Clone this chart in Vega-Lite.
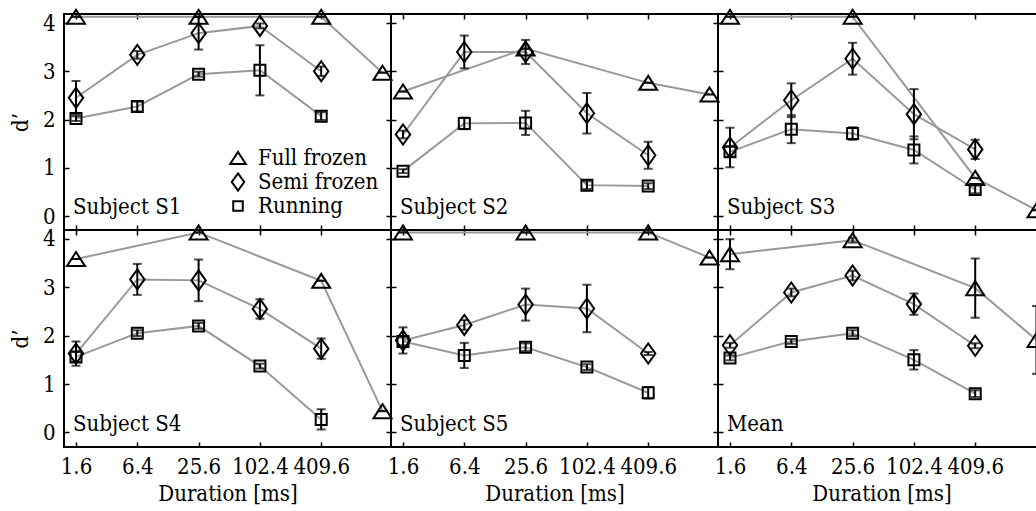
{
"$schema": "https://vega.github.io/schema/vega-lite/v6.json",
"padding": {"left": 8, "top": 4, "right": 0, "bottom": 0},
"datasets": {
"pts": [
{"p":"S1","c":"Full frozen","d":1.6,"v":4.13,"lo":4.13,"hi":4.13},
{"p":"S1","c":"Full frozen","d":25.6,"v":4.13,"lo":4.13,"hi":4.13},
{"p":"S1","c":"Full frozen","d":409.6,"v":4.13,"lo":4.13,"hi":4.13},
{"p":"S1","c":"Full frozen","d":1638.4,"v":2.97,"lo":2.97,"hi":2.97},
{"p":"S1","c":"Semi frozen","d":1.6,"v":2.45,"lo":2.1,"hi":2.8},
{"p":"S1","c":"Semi frozen","d":6.4,"v":3.34,"lo":3.26,"hi":3.42},
{"p":"S1","c":"Semi frozen","d":25.6,"v":3.79,"lo":3.45,"hi":4.13},
{"p":"S1","c":"Semi frozen","d":102.4,"v":3.94,"lo":3.89,"hi":3.99},
{"p":"S1","c":"Semi frozen","d":409.6,"v":3.0,"lo":2.9,"hi":3.1},
{"p":"S1","c":"Running","d":1.6,"v":2.02,"lo":1.97,"hi":2.07},
{"p":"S1","c":"Running","d":6.4,"v":2.27,"lo":2.17,"hi":2.37},
{"p":"S1","c":"Running","d":25.6,"v":2.94,"lo":2.89,"hi":2.99},
{"p":"S1","c":"Running","d":102.4,"v":3.02,"lo":2.5,"hi":3.54},
{"p":"S1","c":"Running","d":409.6,"v":2.07,"lo":1.99,"hi":2.15},
{"p":"S2","c":"Full frozen","d":1.6,"v":2.58,"lo":2.58,"hi":2.58},
{"p":"S2","c":"Full frozen","d":25.6,"v":3.47,"lo":3.47,"hi":3.47},
{"p":"S2","c":"Full frozen","d":409.6,"v":2.76,"lo":2.76,"hi":2.76},
{"p":"S2","c":"Full frozen","d":1638.4,"v":2.52,"lo":2.52,"hi":2.52},
{"p":"S2","c":"Semi frozen","d":1.6,"v":1.69,"lo":1.61,"hi":1.77},
{"p":"S2","c":"Semi frozen","d":6.4,"v":3.4,"lo":3.06,"hi":3.74},
{"p":"S2","c":"Semi frozen","d":25.6,"v":3.4,"lo":3.15,"hi":3.65},
{"p":"S2","c":"Semi frozen","d":102.4,"v":2.13,"lo":1.71,"hi":2.55},
{"p":"S2","c":"Semi frozen","d":409.6,"v":1.26,"lo":0.98,"hi":1.54},
{"p":"S2","c":"Running","d":1.6,"v":0.93,"lo":0.89,"hi":0.97},
{"p":"S2","c":"Running","d":6.4,"v":1.92,"lo":1.8,"hi":2.04},
{"p":"S2","c":"Running","d":25.6,"v":1.93,"lo":1.68,"hi":2.18},
{"p":"S2","c":"Running","d":102.4,"v":0.64,"lo":0.56,"hi":0.72},
{"p":"S2","c":"Running","d":409.6,"v":0.62,"lo":0.56,"hi":0.68},
{"p":"S3","c":"Full frozen","d":1.6,"v":4.13,"lo":4.13,"hi":4.13},
{"p":"S3","c":"Full frozen","d":25.6,"v":4.13,"lo":4.13,"hi":4.13},
{"p":"S3","c":"Full frozen","d":409.6,"v":0.79,"lo":0.79,"hi":0.79},
{"p":"S3","c":"Full frozen","d":1638.4,"v":0.12,"lo":0.12,"hi":0.12},
{"p":"S3","c":"Semi frozen","d":1.6,"v":1.42,"lo":1.01,"hi":1.83},
{"p":"S3","c":"Semi frozen","d":6.4,"v":2.4,"lo":2.05,"hi":2.75},
{"p":"S3","c":"Semi frozen","d":25.6,"v":3.26,"lo":2.93,"hi":3.59},
{"p":"S3","c":"Semi frozen","d":102.4,"v":2.11,"lo":1.59,"hi":2.63},
{"p":"S3","c":"Semi frozen","d":409.6,"v":1.38,"lo":1.18,"hi":1.58},
{"p":"S3","c":"Running","d":1.6,"v":1.33,"lo":1.23,"hi":1.43},
{"p":"S3","c":"Running","d":6.4,"v":1.8,"lo":1.51,"hi":2.09},
{"p":"S3","c":"Running","d":25.6,"v":1.71,"lo":1.58,"hi":1.84},
{"p":"S3","c":"Running","d":102.4,"v":1.37,"lo":1.09,"hi":1.65},
{"p":"S3","c":"Running","d":409.6,"v":0.55,"lo":0.47,"hi":0.63},
{"p":"S4","c":"Full frozen","d":1.6,"v":3.58,"lo":3.58,"hi":3.58},
{"p":"S4","c":"Full frozen","d":25.6,"v":4.13,"lo":4.13,"hi":4.13},
{"p":"S4","c":"Full frozen","d":409.6,"v":3.13,"lo":3.13,"hi":3.13},
{"p":"S4","c":"Full frozen","d":1638.4,"v":0.44,"lo":0.44,"hi":0.44},
{"p":"S4","c":"Semi frozen","d":1.6,"v":1.63,"lo":1.38,"hi":1.88},
{"p":"S4","c":"Semi frozen","d":6.4,"v":3.16,"lo":2.84,"hi":3.48},
{"p":"S4","c":"Semi frozen","d":25.6,"v":3.14,"lo":2.71,"hi":3.57},
{"p":"S4","c":"Semi frozen","d":102.4,"v":2.55,"lo":2.35,"hi":2.75},
{"p":"S4","c":"Semi frozen","d":409.6,"v":1.73,"lo":1.52,"hi":1.94},
{"p":"S4","c":"Running","d":1.6,"v":1.56,"lo":1.46,"hi":1.66},
{"p":"S4","c":"Running","d":6.4,"v":2.05,"lo":1.99,"hi":2.11},
{"p":"S4","c":"Running","d":25.6,"v":2.2,"lo":2.14,"hi":2.26},
{"p":"S4","c":"Running","d":102.4,"v":1.37,"lo":1.32,"hi":1.42},
{"p":"S4","c":"Running","d":409.6,"v":0.27,"lo":0.06,"hi":0.48},
{"p":"S5","c":"Full frozen","d":1.6,"v":4.13,"lo":4.13,"hi":4.13},
{"p":"S5","c":"Full frozen","d":25.6,"v":4.13,"lo":4.13,"hi":4.13},
{"p":"S5","c":"Full frozen","d":409.6,"v":4.13,"lo":4.13,"hi":4.13},
{"p":"S5","c":"Full frozen","d":1638.4,"v":3.61,"lo":3.61,"hi":3.61},
{"p":"S5","c":"Semi frozen","d":1.6,"v":1.9,"lo":1.63,"hi":2.17},
{"p":"S5","c":"Semi frozen","d":6.4,"v":2.22,"lo":2.12,"hi":2.32},
{"p":"S5","c":"Semi frozen","d":25.6,"v":2.64,"lo":2.31,"hi":2.97},
{"p":"S5","c":"Semi frozen","d":102.4,"v":2.56,"lo":2.07,"hi":3.05},
{"p":"S5","c":"Semi frozen","d":409.6,"v":1.63,"lo":1.6,"hi":1.66},
{"p":"S5","c":"Running","d":1.6,"v":1.88,"lo":1.8,"hi":1.96},
{"p":"S5","c":"Running","d":6.4,"v":1.59,"lo":1.33,"hi":1.85},
{"p":"S5","c":"Running","d":25.6,"v":1.76,"lo":1.68,"hi":1.84},
{"p":"S5","c":"Running","d":102.4,"v":1.35,"lo":1.29,"hi":1.41},
{"p":"S5","c":"Running","d":409.6,"v":0.82,"lo":0.7,"hi":0.94},
{"p":"Mean","c":"Full frozen","d":1.6,"v":3.68,"lo":3.37,"hi":3.99},
{"p":"Mean","c":"Full frozen","d":25.6,"v":3.97,"lo":3.92,"hi":4.02},
{"p":"Mean","c":"Full frozen","d":409.6,"v":2.98,"lo":2.37,"hi":3.59},
{"p":"Mean","c":"Full frozen","d":1638.4,"v":1.91,"lo":1.21,"hi":2.61},
{"p":"Mean","c":"Semi frozen","d":1.6,"v":1.8,"lo":1.75,"hi":1.85},
{"p":"Mean","c":"Semi frozen","d":6.4,"v":2.89,"lo":2.81,"hi":2.97},
{"p":"Mean","c":"Semi frozen","d":25.6,"v":3.24,"lo":3.14,"hi":3.34},
{"p":"Mean","c":"Semi frozen","d":102.4,"v":2.65,"lo":2.43,"hi":2.87},
{"p":"Mean","c":"Semi frozen","d":409.6,"v":1.79,"lo":1.74,"hi":1.84},
{"p":"Mean","c":"Running","d":1.6,"v":1.54,"lo":1.49,"hi":1.59},
{"p":"Mean","c":"Running","d":6.4,"v":1.88,"lo":1.83,"hi":1.93},
{"p":"Mean","c":"Running","d":25.6,"v":2.05,"lo":1.99,"hi":2.11},
{"p":"Mean","c":"Running","d":102.4,"v":1.5,"lo":1.3,"hi":1.7},
{"p":"Mean","c":"Running","d":409.6,"v":0.8,"lo":0.73,"hi":0.87}
]
},
"spacing": 0,
"bounds": "flush",
"columns": 3,
"resolve": {"scale": {"shape": "independent"}, "legend": {"shape": "independent"}},
"concat": [
{"width": 327, "height": 216, "data": {"name": "pts"},
 "layer": [
  {"transform": [{"filter": "datum.p === 'S1'"}], "mark": {"type": "line", "color": "#999999", "strokeWidth": 2},
   "encoding": {"x": {"field": "d", "type": "quantitative", "scale": {"type": "log", "domain": [1.22, 1985], "nice": false}, "axis": {"orient": "bottom", "values": [1.6, 6.4, 25.6, 102.4, 409.6], "labels": false, "title": null}},
    "y": {"field": "v", "type": "quantitative", "scale": {"domain": [-0.29, 4.187], "nice": false, "zero": false}, "axis": {"orient": "left", "values": [0, 1, 2, 3, 4], "format": "d", "title": "d’", "titlePadding": 10}},
    "detail": {"field": "c"}}},
  {"transform": [{"filter": "datum.p === 'S1'"}], "mark": {"type": "errorbar", "color": "black", "ticks": {"size": 9, "thickness": 2}, "rule": {"strokeWidth": 2}},
   "encoding": {"x": {"field": "d", "type": "quantitative", "axis": null}, "y": {"field": "lo", "type": "quantitative", "axis": null}, "y2": {"field": "hi"}}},
  {"transform": [{"filter": "datum.p === 'S1'"}], "mark": {"type": "point", "filled": false, "color": "black", "strokeWidth": 2, "size": 400, "opacity": 1},
   "encoding": {"x": {"field": "d", "type": "quantitative", "axis": {"orient": "top", "values": [1.6, 6.4, 25.6, 102.4, 409.6], "labels": false, "title": null}},
    "y": {"field": "v", "type": "quantitative", "axis": {"orient": "right", "values": [0, 1, 2, 3, 4], "labels": false, "title": null}},
    "shape": {"field": "c", "type": "nominal", "scale": {"domain": ["Full frozen", "Semi frozen", "Running"], "range": ["M0,-0.7L0.9,0.7L-0.9,0.7Z", "M0,-1L0.72,0L0,1L-0.72,0Z", "M-0.55,-0.55L0.55,-0.55L0.55,0.55L-0.55,0.55Z"]},
     "legend": {"orient": "none", "legendX": 163, "legendY": 133, "title": null, "padding": 0, "labelFont": "DejaVu Serif Condensed, DejaVu Serif", "labelFontSize": 22, "labelColor": "black", "symbolSize": 300, "symbolStrokeWidth": 2, "symbolStrokeColor": "black", "symbolFillColor": "transparent", "labelOffset": 9, "rowPadding": 0}}}},
  {"data": {"values": [{"t": "Subject S1"}]}, "mark": {"type": "text", "align": "left", "baseline": "alphabetic", "dx": -3, "fontSize": 22, "font": "DejaVu Serif Condensed, DejaVu Serif", "color": "black"},
   "encoding": {"x": {"datum": 1.6, "type": "quantitative", "axis": null}, "y": {"datum": 0.04, "type": "quantitative", "axis": null}, "text": {"field": "t"}}}
 ],
 "resolve": {"axis": {"x": "independent", "y": "independent"}}},
{"width": 327, "height": 216, "data": {"name": "pts"},
 "layer": [
  {"transform": [{"filter": "datum.p === 'S2'"}], "mark": {"type": "line", "color": "#999999", "strokeWidth": 2},
   "encoding": {"x": {"field": "d", "type": "quantitative", "scale": {"type": "log", "domain": [1.22, 1985], "nice": false}, "axis": {"orient": "bottom", "values": [1.6, 6.4, 25.6, 102.4, 409.6], "labels": false, "title": null}},
    "y": {"field": "v", "type": "quantitative", "scale": {"domain": [-0.29, 4.187], "nice": false, "zero": false}, "axis": {"orient": "left", "values": [0, 1, 2, 3, 4], "labels": false, "title": null}},
    "detail": {"field": "c"}}},
  {"transform": [{"filter": "datum.p === 'S2'"}], "mark": {"type": "errorbar", "color": "black", "ticks": {"size": 9, "thickness": 2}, "rule": {"strokeWidth": 2}},
   "encoding": {"x": {"field": "d", "type": "quantitative", "axis": null}, "y": {"field": "lo", "type": "quantitative", "axis": null}, "y2": {"field": "hi"}}},
  {"transform": [{"filter": "datum.p === 'S2'"}], "mark": {"type": "point", "filled": false, "color": "black", "strokeWidth": 2, "size": 400, "opacity": 1},
   "encoding": {"x": {"field": "d", "type": "quantitative", "axis": {"orient": "top", "values": [1.6, 6.4, 25.6, 102.4, 409.6], "labels": false, "title": null}},
    "y": {"field": "v", "type": "quantitative", "axis": {"orient": "right", "values": [0, 1, 2, 3, 4], "labels": false, "title": null}},
    "shape": {"field": "c", "type": "nominal", "scale": {"domain": ["Full frozen", "Semi frozen", "Running"], "range": ["M0,-0.7L0.9,0.7L-0.9,0.7Z", "M0,-1L0.72,0L0,1L-0.72,0Z", "M-0.55,-0.55L0.55,-0.55L0.55,0.55L-0.55,0.55Z"]}, "legend": null}}},
  {"data": {"values": [{"t": "Subject S2"}]}, "mark": {"type": "text", "align": "left", "baseline": "alphabetic", "dx": -3, "fontSize": 22, "font": "DejaVu Serif Condensed, DejaVu Serif", "color": "black"},
   "encoding": {"x": {"datum": 1.6, "type": "quantitative", "axis": null}, "y": {"datum": 0.04, "type": "quantitative", "axis": null}, "text": {"field": "t"}}}
 ],
 "resolve": {"axis": {"x": "independent", "y": "independent"}}},
{"width": 327, "height": 216, "data": {"name": "pts"},
 "layer": [
  {"transform": [{"filter": "datum.p === 'S3'"}], "mark": {"type": "line", "color": "#999999", "strokeWidth": 2},
   "encoding": {"x": {"field": "d", "type": "quantitative", "scale": {"type": "log", "domain": [1.22, 1985], "nice": false}, "axis": {"orient": "bottom", "values": [1.6, 6.4, 25.6, 102.4, 409.6], "labels": false, "title": null}},
    "y": {"field": "v", "type": "quantitative", "scale": {"domain": [-0.29, 4.187], "nice": false, "zero": false}, "axis": {"orient": "left", "values": [0, 1, 2, 3, 4], "labels": false, "title": null}},
    "detail": {"field": "c"}}},
  {"transform": [{"filter": "datum.p === 'S3'"}], "mark": {"type": "errorbar", "color": "black", "ticks": {"size": 9, "thickness": 2}, "rule": {"strokeWidth": 2}},
   "encoding": {"x": {"field": "d", "type": "quantitative", "axis": null}, "y": {"field": "lo", "type": "quantitative", "axis": null}, "y2": {"field": "hi"}}},
  {"transform": [{"filter": "datum.p === 'S3'"}], "mark": {"type": "point", "filled": false, "color": "black", "strokeWidth": 2, "size": 400, "opacity": 1},
   "encoding": {"x": {"field": "d", "type": "quantitative", "axis": {"orient": "top", "values": [1.6, 6.4, 25.6, 102.4, 409.6], "labels": false, "title": null}},
    "y": {"field": "v", "type": "quantitative", "axis": {"orient": "right", "values": [0, 1, 2, 3, 4], "labels": false, "title": null}},
    "shape": {"field": "c", "type": "nominal", "scale": {"domain": ["Full frozen", "Semi frozen", "Running"], "range": ["M0,-0.7L0.9,0.7L-0.9,0.7Z", "M0,-1L0.72,0L0,1L-0.72,0Z", "M-0.55,-0.55L0.55,-0.55L0.55,0.55L-0.55,0.55Z"]}, "legend": null}}},
  {"data": {"values": [{"t": "Subject S3"}]}, "mark": {"type": "text", "align": "left", "baseline": "alphabetic", "dx": -3, "fontSize": 22, "font": "DejaVu Serif Condensed, DejaVu Serif", "color": "black"},
   "encoding": {"x": {"datum": 1.6, "type": "quantitative", "axis": null}, "y": {"datum": 0.04, "type": "quantitative", "axis": null}, "text": {"field": "t"}}}
 ],
 "resolve": {"axis": {"x": "independent", "y": "independent"}}},
{"width": 327, "height": 217, "data": {"name": "pts"},
 "layer": [
  {"transform": [{"filter": "datum.p === 'S4'"}], "mark": {"type": "line", "color": "#999999", "strokeWidth": 2},
   "encoding": {"x": {"field": "d", "type": "quantitative", "scale": {"type": "log", "domain": [1.22, 1985], "nice": false}, "axis": {"orient": "bottom", "values": [1.6, 6.4, 25.6, 102.4, 409.6], "format": ".1f", "title": "Duration [ms]", "titlePadding": 6}},
    "y": {"field": "v", "type": "quantitative", "scale": {"domain": [-0.3, 4.18], "nice": false, "zero": false}, "axis": {"orient": "left", "values": [0, 1, 2, 3, 4], "format": "d", "title": "d’", "titlePadding": 10}},
    "detail": {"field": "c"}}},
  {"transform": [{"filter": "datum.p === 'S4'"}], "mark": {"type": "errorbar", "color": "black", "ticks": {"size": 9, "thickness": 2}, "rule": {"strokeWidth": 2}},
   "encoding": {"x": {"field": "d", "type": "quantitative", "axis": null}, "y": {"field": "lo", "type": "quantitative", "axis": null}, "y2": {"field": "hi"}}},
  {"transform": [{"filter": "datum.p === 'S4'"}], "mark": {"type": "point", "filled": false, "color": "black", "strokeWidth": 2, "size": 400, "opacity": 1},
   "encoding": {"x": {"field": "d", "type": "quantitative", "axis": {"orient": "top", "values": [1.6, 6.4, 25.6, 102.4, 409.6], "labels": false, "title": null}},
    "y": {"field": "v", "type": "quantitative", "axis": {"orient": "right", "values": [0, 1, 2, 3, 4], "labels": false, "title": null}},
    "shape": {"field": "c", "type": "nominal", "scale": {"domain": ["Full frozen", "Semi frozen", "Running"], "range": ["M0,-0.7L0.9,0.7L-0.9,0.7Z", "M0,-1L0.72,0L0,1L-0.72,0Z", "M-0.55,-0.55L0.55,-0.55L0.55,0.55L-0.55,0.55Z"]}, "legend": null}}},
  {"data": {"values": [{"t": "Subject S4"}]}, "mark": {"type": "text", "align": "left", "baseline": "alphabetic", "dx": -3, "fontSize": 22, "font": "DejaVu Serif Condensed, DejaVu Serif", "color": "black"},
   "encoding": {"x": {"datum": 1.6, "type": "quantitative", "axis": null}, "y": {"datum": 0.04, "type": "quantitative", "axis": null}, "text": {"field": "t"}}}
 ],
 "resolve": {"axis": {"x": "independent", "y": "independent"}}},
{"width": 327, "height": 217, "data": {"name": "pts"},
 "layer": [
  {"transform": [{"filter": "datum.p === 'S5'"}], "mark": {"type": "line", "color": "#999999", "strokeWidth": 2},
   "encoding": {"x": {"field": "d", "type": "quantitative", "scale": {"type": "log", "domain": [1.22, 1985], "nice": false}, "axis": {"orient": "bottom", "values": [1.6, 6.4, 25.6, 102.4, 409.6], "format": ".1f", "title": "Duration [ms]", "titlePadding": 6}},
    "y": {"field": "v", "type": "quantitative", "scale": {"domain": [-0.3, 4.18], "nice": false, "zero": false}, "axis": {"orient": "left", "values": [0, 1, 2, 3, 4], "labels": false, "title": null}},
    "detail": {"field": "c"}}},
  {"transform": [{"filter": "datum.p === 'S5'"}], "mark": {"type": "errorbar", "color": "black", "ticks": {"size": 9, "thickness": 2}, "rule": {"strokeWidth": 2}},
   "encoding": {"x": {"field": "d", "type": "quantitative", "axis": null}, "y": {"field": "lo", "type": "quantitative", "axis": null}, "y2": {"field": "hi"}}},
  {"transform": [{"filter": "datum.p === 'S5'"}], "mark": {"type": "point", "filled": false, "color": "black", "strokeWidth": 2, "size": 400, "opacity": 1},
   "encoding": {"x": {"field": "d", "type": "quantitative", "axis": {"orient": "top", "values": [1.6, 6.4, 25.6, 102.4, 409.6], "labels": false, "title": null}},
    "y": {"field": "v", "type": "quantitative", "axis": {"orient": "right", "values": [0, 1, 2, 3, 4], "labels": false, "title": null}},
    "shape": {"field": "c", "type": "nominal", "scale": {"domain": ["Full frozen", "Semi frozen", "Running"], "range": ["M0,-0.7L0.9,0.7L-0.9,0.7Z", "M0,-1L0.72,0L0,1L-0.72,0Z", "M-0.55,-0.55L0.55,-0.55L0.55,0.55L-0.55,0.55Z"]}, "legend": null}}},
  {"data": {"values": [{"t": "Subject S5"}]}, "mark": {"type": "text", "align": "left", "baseline": "alphabetic", "dx": -3, "fontSize": 22, "font": "DejaVu Serif Condensed, DejaVu Serif", "color": "black"},
   "encoding": {"x": {"datum": 1.6, "type": "quantitative", "axis": null}, "y": {"datum": 0.04, "type": "quantitative", "axis": null}, "text": {"field": "t"}}}
 ],
 "resolve": {"axis": {"x": "independent", "y": "independent"}}},
{"width": 327, "height": 217, "data": {"name": "pts"},
 "layer": [
  {"transform": [{"filter": "datum.p === 'Mean'"}], "mark": {"type": "line", "color": "#999999", "strokeWidth": 2},
   "encoding": {"x": {"field": "d", "type": "quantitative", "scale": {"type": "log", "domain": [1.22, 1985], "nice": false}, "axis": {"orient": "bottom", "values": [1.6, 6.4, 25.6, 102.4, 409.6], "format": ".1f", "title": "Duration [ms]", "titlePadding": 6}},
    "y": {"field": "v", "type": "quantitative", "scale": {"domain": [-0.3, 4.18], "nice": false, "zero": false}, "axis": {"orient": "left", "values": [0, 1, 2, 3, 4], "labels": false, "title": null}},
    "detail": {"field": "c"}}},
  {"transform": [{"filter": "datum.p === 'Mean'"}], "mark": {"type": "errorbar", "color": "black", "ticks": {"size": 9, "thickness": 2}, "rule": {"strokeWidth": 2}},
   "encoding": {"x": {"field": "d", "type": "quantitative", "axis": null}, "y": {"field": "lo", "type": "quantitative", "axis": null}, "y2": {"field": "hi"}}},
  {"transform": [{"filter": "datum.p === 'Mean'"}], "mark": {"type": "point", "filled": false, "color": "black", "strokeWidth": 2, "size": 400, "opacity": 1},
   "encoding": {"x": {"field": "d", "type": "quantitative", "axis": {"orient": "top", "values": [1.6, 6.4, 25.6, 102.4, 409.6], "labels": false, "title": null}},
    "y": {"field": "v", "type": "quantitative", "axis": {"orient": "right", "values": [0, 1, 2, 3, 4], "labels": false, "title": null}},
    "shape": {"field": "c", "type": "nominal", "scale": {"domain": ["Full frozen", "Semi frozen", "Running"], "range": ["M0,-0.7L0.9,0.7L-0.9,0.7Z", "M0,-1L0.72,0L0,1L-0.72,0Z", "M-0.55,-0.55L0.55,-0.55L0.55,0.55L-0.55,0.55Z"]}, "legend": null}}},
  {"data": {"values": [{"t": "Mean"}]}, "mark": {"type": "text", "align": "left", "baseline": "alphabetic", "dx": -3, "fontSize": 22, "font": "DejaVu Serif Condensed, DejaVu Serif", "color": "black"},
   "encoding": {"x": {"datum": 1.6, "type": "quantitative", "axis": null}, "y": {"datum": 0.04, "type": "quantitative", "axis": null}, "text": {"field": "t"}}}
 ],
 "resolve": {"axis": {"x": "independent", "y": "independent"}}}
],
"config": {
 "font": "DejaVu Serif Condensed, DejaVu Serif",
 "view": {"stroke": "black", "strokeWidth": 2},
 "legend": {"labelFont": "DejaVu Serif Condensed, DejaVu Serif"},
 "text": {"font": "DejaVu Serif Condensed, DejaVu Serif"},
 "axis": {"domain": false, "grid": false, "tickSize": -5, "tickColor": "black", "tickWidth": 1.5, "labelFont": "DejaVu Serif Condensed, DejaVu Serif", "labelFontSize": 22, "labelColor": "black", "labelPadding": 14, "titleFont": "DejaVu Serif Condensed, DejaVu Serif", "titleFontSize": 22, "titleFontWeight": "normal", "titleColor": "black", "labelOverlap": false, "labelFlush": false}
}
}
